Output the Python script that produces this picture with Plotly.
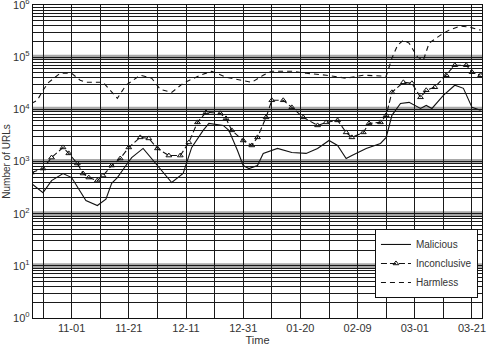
import plotly.graph_objects as go
import pandas as pd

START = "2018-10-18"

# day offsets from START and values
harmless_day = [0, 2, 4, 6, 10, 14, 17, 19, 25, 27, 30, 33, 38, 42, 45, 49, 53, 59, 63, 68, 72, 77,
                81, 84, 91, 96, 103, 110, 116, 124, 126, 128, 130, 132, 135, 137, 139, 143, 146, 150, 153, 157]
harmless_val = [13000, 14900, 23200, 33000, 49200, 49200, 36100, 33000, 33000, 25300, 16300, 29000,
                45100, 39500, 24200, 21200, 31600, 45100, 53800, 41200, 37700, 33000, 45100, 53800,
                53800, 49200, 45100, 39500, 45100, 43100, 95700, 170000, 212000, 186000, 100000, 87500,
                186000, 265000, 330000, 395000, 378000, 330000]

incon_day = [0, 4, 7, 11, 13, 16, 18, 20, 23, 25, 28, 31, 34, 38, 41, 44, 48, 52, 55, 58, 61, 66, 68,
             70, 74, 77, 79, 82, 84, 88, 91, 95, 100, 103, 107, 110, 112, 116, 118, 122, 124, 126, 130,
             133, 136, 138, 141, 145, 148, 152, 154, 157]
incon_val = [614, 733, 1190, 1860, 1430, 915, 588, 492, 431, 538, 838, 1140, 1860, 2900, 2770, 1780,
             1300, 1300, 2320, 5620, 8750, 8380, 6710, 3950, 2530, 2030, 2900, 7020, 14900, 14900, 10900,
             7020, 4920, 5620, 6140, 3610, 2900, 3610, 5380, 5620, 7670, 21200, 33000, 31600, 17000,
             23200, 26500, 45100, 70200, 70200, 51500, 45100]

mal_day = [0, 4, 7, 11, 14, 17, 19, 23, 26, 28, 30, 33, 35, 39, 42, 45, 49, 53, 56, 60, 62, 67, 69, 72,
           74, 76, 79, 81, 86, 91, 96, 100, 104, 107, 110, 112, 117, 122, 124, 126, 129, 132, 136, 138,
           140, 144, 148, 151, 154, 157]
mal_val = [378, 253, 431, 588, 492, 277, 178, 143, 190, 380, 492, 838, 1190, 1780, 1140, 733, 395, 588,
           1860, 3950, 5380, 4920, 3950, 1630, 838, 733, 838, 1430, 1780, 1490, 1430, 1780, 2530, 2030,
           1140, 1300, 1780, 2220, 2900, 7670, 13000, 13600, 10400, 11900, 10400, 18600, 29000, 25300,
           10900, 9570]

tick_days = [4, 14, 24, 34, 44, 54, 64, 74, 84, 94, 104, 114, 124, 134, 144, 154]
tick_text = ["", "11-01", "", "11-21", "", "12-11", "", "12-31", "", "01-20", "", "02-09", "", "03-01", "", "03-21"]

decades = [0, 1, 2, 3, 4, 5, 6]


def to_dates(days):
    return pd.Timestamp(START) + pd.to_timedelta(days, unit="D")


FONT = "Liberation Sans, Arial, sans-serif"
INK = "#111111"

fig = go.Figure()
fig.add_trace(go.Scatter(x=to_dates(mal_day), y=mal_val, mode="lines", name="Malicious",
                         line=dict(color=INK, width=1.1)))
fig.add_trace(go.Scatter(x=to_dates(incon_day), y=incon_val, mode="lines+markers", name="Inconclusive",
                         line=dict(color=INK, width=1.1, dash="6px,3px"),
                         marker=dict(symbol="triangle-up-open", size=5, color=INK, line=dict(width=1))))
fig.add_trace(go.Scatter(x=to_dates(harmless_day), y=harmless_val, mode="lines", name="Harmless",
                         line=dict(color=INK, width=1.1, dash="5px,4px")))

# y tick positions: every 1..9 x 10^n, labels only at decades
y_tickvals, y_ticktext = [], []
for n in decades:
    for k in range(1, 10):
        if n == decades[-1] and k > 1:
            break
        y_tickvals.append(k * 10 ** n)
        y_ticktext.append(f"10<sup>{n}</sup>" if k == 1 else "")

# light gray bands around decades
for n in decades[1:-1]:
    fig.add_shape(type="line", xref="paper", yref="y", x0=0, x1=1, y0=10 ** n, y1=10 ** n,
                  line=dict(color="#a8a8a8", width=5), layer="below")

fig.update_layout(
    width=487, height=353,
    margin=dict(l=33, r=5, t=5, b=35, autoexpand=False),
    paper_bgcolor="white", plot_bgcolor="white",
    font=dict(family=FONT, size=11, color="#333333"),
    showlegend=True,
    legend=dict(x=0.991, y=0.064, xanchor="right", yanchor="bottom",
                bgcolor="white", bordercolor=INK, borderwidth=1,
                font=dict(size=10, color="#333333"), tracegroupgap=0,
                itemwidth=30),
)
fig.update_xaxes(
    type="date", automargin=False,
    range=[pd.Timestamp(START) + pd.Timedelta(hours=12), pd.Timestamp(START) + pd.Timedelta(days=157, hours=12)],
    tickvals=to_dates(tick_days), ticktext=tick_text,
    showgrid=True, gridcolor="#1a1a1a", gridwidth=1.3,
    showline=True, linecolor=INK, linewidth=1.3, mirror=True,
    ticks="", zeroline=False,
    title=dict(text="Time", standoff=2, font=dict(size=11)),
)
fig.update_yaxes(
    type="log", range=[-0.0005, 6.0005], automargin=False,
    tickvals=y_tickvals, ticktext=y_ticktext,
    ticklabeloverflow="allow",
    showgrid=True, gridcolor="#1a1a1a", gridwidth=1.2,
    showline=True, linecolor=INK, linewidth=1.3, mirror=True,
    ticks="", zeroline=False,
    title=dict(text="Number of URLs", standoff=0, font=dict(size=10)),
)

fig.write_html("out.html")
